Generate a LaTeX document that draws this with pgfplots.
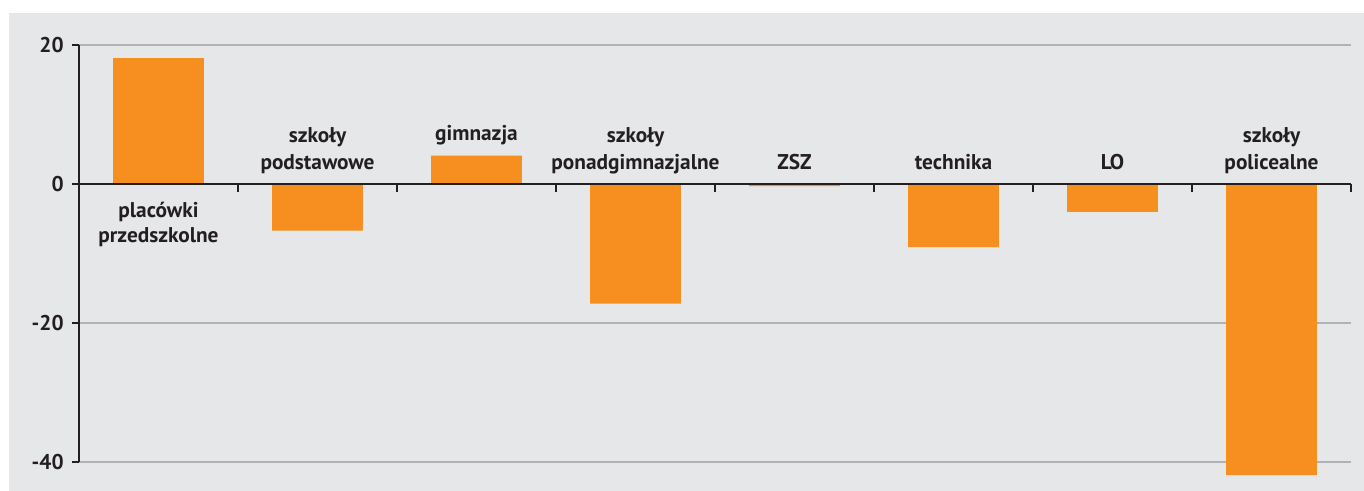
\documentclass[border=0pt]{standalone}
\usepackage{pgfplots}
\pgfplotsset{compat=1.18}
\usepackage{fontspec}
\setmainfont{PT Sans}
\definecolor{bg}{HTML}{E6E7E8}
\definecolor{barc}{HTML}{F68E20}
\definecolor{gridc}{HTML}{B1B2B4}
\definecolor{axc}{HTML}{231F20}
\begin{document}
\begin{tikzpicture}
\useasboundingbox (0pt,0pt) rectangle (1023pt,-368.25pt);
\fill[bg] (6.75pt,-9.75pt) rectangle (1023pt,-368.25pt);
\begin{axis}[
  at={(59.25pt,-346.5pt)}, anchor=south west,
  scale only axis, width=954pt, height=312.75pt,
  xmin=0.5, xmax=8.5, ymin=-40, ymax=20,
  clip=false,
  axis x line=none,
  axis y line*=left,
  y axis line style={line width=2pt, color=axc},
  ytick={-40,-20,0,20},
  tick align=outside,
  major tick length=5pt,
  ytick style={line width=2pt, color=axc},
  ymajorgrids,
  grid style={color=gridc, line width=1.3pt},
  /pgf/number format/assume math mode=true,
  yticklabel style={font=\bfseries\fontsize{16}{19}\selectfont, color=axc, xshift=-3pt},
]
\addplot[ybar, bar width=0.572, fill=barc, draw=none] coordinates {
  (1,18.1) (2,-6.7) (3,4.1) (4,-17.2) (5,-0.3) (6,-9.1) (7,-4.0) (8,-41.9)
};
\draw[line width=2.2pt, color=axc] (axis cs:0.5,0) -- (axis cs:8.5,0);
\pgfplotsinvokeforeach{1.5,2.5,3.5,4.5,5.5,6.5,7.5,8.5}{
  \draw[line width=1.8pt, color=axc] (axis cs:#1,0) -- ++(0pt,-6pt);
}
\tikzset{lab/.style={font=\bfseries\fontsize{16}{19}\selectfont, color=axc, anchor=base, inner sep=0pt}}
\node[lab] at (axis cs:1,-4.82) {placówki};
\node[lab] at (axis cs:1,-8.42) {przedszkolne};
\node[lab] at (axis cs:2,5.97) {szkoły};
\node[lab] at (axis cs:2,2.09) {podstawowe};
\node[lab] at (axis cs:3,6.26) {gimnazja};
\node[lab] at (axis cs:4,5.97) {szkoły};
\node[lab] at (axis cs:4,2.09) {ponadgimnazjalne};
\node[lab] at (axis cs:5,2.09) {ZSZ};
\node[lab] at (axis cs:6,2.09) {technika};
\node[lab] at (axis cs:7,2.09) {LO};
\node[lab] at (axis cs:8,5.97) {szkoły};
\node[lab] at (axis cs:8,2.09) {policealne};
\end{axis}
\end{tikzpicture}
\end{document}
